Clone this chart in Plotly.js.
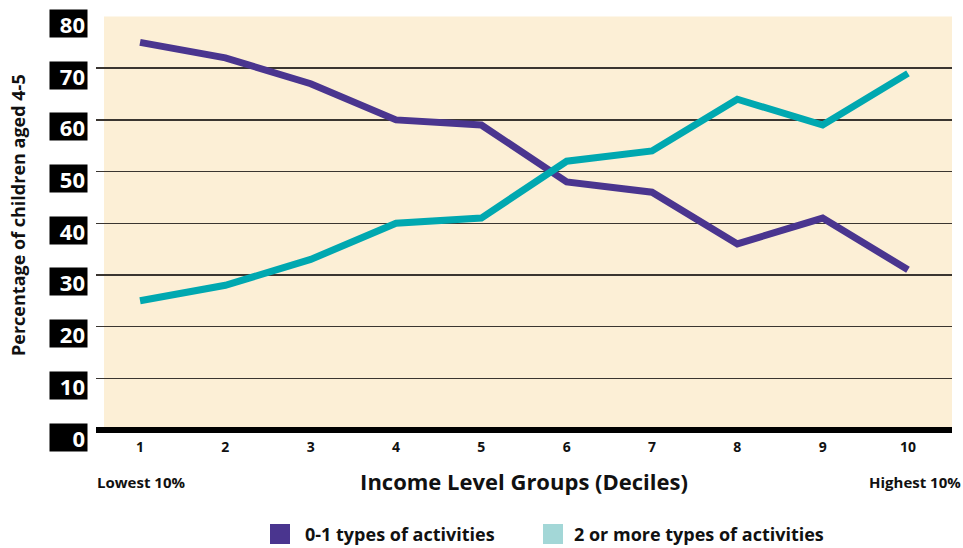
<!DOCTYPE html>
<html>
<head>
<meta charset="utf-8">
<script src="https://cdn.plot.ly/plotly-3.0.1.min.js"></script>
<style>html,body{margin:0;padding:0;background:#fff;}#chart{width:963px;height:548px;}</style>
</head>
<body>
<div id="chart"></div>
<script>
const deciles = [1, 2, 3, 4, 5, 6, 7, 8, 9, 10];
const decileLabels = ["1", "2", "3", "4", "5", "6", "7", "8", "9", "10"];
const lowActivities = [75, 72, 67, 60, 59, 48, 46, 36, 41, 31];
const highActivities = [25, 28, 33, 40, 41, 52, 54, 64, 59, 69];
const yTickValues = [0, 10, 20, 30, 40, 50, 60, 70, 80];
const seriesNames = ["0-1 types of activities", "2 or more types of activities"];

const FONT = "Open Sans, Lato, sans-serif";
const PURPLE = "#4a358f";
const TEAL = "#00a8b0";
const TEAL_LIGHT = "#a3d7d7";

const traces = [
  {x: deciles, y: lowActivities, name: seriesNames[0], mode: "lines",
   line: {color: PURPLE, width: 7}, showlegend: false, hoverinfo: "x+y"},
  {x: deciles, y: highActivities, name: seriesNames[1], mode: "lines",
   line: {color: TEAL, width: 7}, showlegend: false, hoverinfo: "x+y"}
];

const W = 963, L = 96, R = 11;
const plotW = W - L - R;
const px = v => (v - L) / plotW;
const T = 16, B = 115, plotH = 548 - T - B;
const py = v => (548 - B - v) / plotH;

const annotations = yTickValues.map(v => ({
  x: px(88), xref: "paper", xanchor: "right",
  y: v, yref: "y", yanchor: "middle", yshift: -7,
  text: "<b>" + v + "</b>", showarrow: false,
  font: {family: FONT, size: 22, color: "#ffffff"},
  bgcolor: "#000000", width: 33, height: 23, borderpad: 2, align: "right"
}));

annotations.push(
  {x: px(95), xref: "paper", xanchor: "left", y: py(482), yref: "paper", yanchor: "middle",
   text: "<b>Lowest 10%</b>", showarrow: false, font: {family: FONT, size: 15, color: "#111"}},
  {x: px(963), xref: "paper", xanchor: "right", y: py(482), yref: "paper", yanchor: "middle",
   text: "<b>Highest 10%</b>", showarrow: false, font: {family: FONT, size: 15, color: "#111"}},
  {x: px(303), xref: "paper", xanchor: "left", y: py(534), yref: "paper", yanchor: "middle",
   text: "<b>" + seriesNames[0] + "</b>", showarrow: false, font: {family: FONT, size: 18, color: "#111"}},
  {x: px(572), xref: "paper", xanchor: "left", y: py(534), yref: "paper", yanchor: "middle",
   text: "<b>" + seriesNames[1] + "</b>", showarrow: false, font: {family: FONT, size: 18, color: "#111"}},
  {x: px(18), xref: "paper", xanchor: "center", y: py(215), yref: "paper", yanchor: "middle",
   text: "<b>Percentage of children aged 4-5</b>", textangle: -90, showarrow: false,
   font: {family: FONT, size: 18, color: "#111"}}
);

const shapes = [
  {type: "rect", xref: "paper", yref: "y", x0: px(104), x1: 1, y0: 0, y1: 80,
   fillcolor: "#fcefd6", line: {width: 0}, layer: "below"},
  {type: "rect", xref: "paper", yref: "paper", x0: px(270), x1: px(290), y0: py(524), y1: py(544),
   fillcolor: PURPLE, line: {width: 0}},
  {type: "rect", xref: "paper", yref: "paper", x0: px(543), x1: px(563), y0: py(524), y1: py(544),
   fillcolor: TEAL_LIGHT, line: {width: 0}}
];

const layout = {
  width: 963, height: 548,
  margin: {l: L, r: R, t: T, b: B},
  paper_bgcolor: "#ffffff", plot_bgcolor: "rgba(0,0,0,0)",
  showlegend: false,
  xaxis: {
    range: [0.484, 10.516], tickvals: deciles, ticktext: decileLabels.map(s => "<b>" + s + "</b>"),
    showgrid: false, zeroline: false, showline: false, ticks: "",
    tickfont: {family: FONT, size: 14, color: "#111"}, ticklabelstandoff: 4,
    title: {text: "<b>Income Level Groups (Deciles)</b>", font: {family: FONT, size: 22, color: "#111"}, standoff: 19},
    fixedrange: true
  },
  yaxis: {
    range: [-0.58, 80.1], tickvals: yTickValues, showticklabels: false,
    showgrid: true, gridcolor: "#3a3530", gridwidth: 1.5,
    zeroline: true, zerolinecolor: "#000000", zerolinewidth: 6,
    showline: false, ticks: "",
    fixedrange: true
  },
  annotations: annotations,
  shapes: shapes
};

Plotly.newPlot("chart", traces, layout, {displayModeBar: false, staticPlot: true});
</script>
</body>
</html>
